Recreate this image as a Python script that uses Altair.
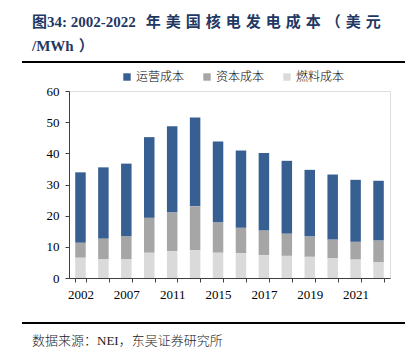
import altair as alt
import pandas as pd

years = ["2002", "2005", "2007", "2010", "2011", "2012", "2015", "2016",
         "2017", "2018", "2019", "2020", "2021", "2022"]
shown_years = ["2002", "2007", "2011", "2015", "2017", "2019", "2021"]
series = ["运营成本", "资本成本", "燃料成本"]
ops_cost = [22.6, 22.9, 23.4, 25.9, 27.7, 28.5, 26.0, 24.8, 24.9, 23.4, 21.4, 20.9, 19.9, 19.2]
capital_cost = [4.8, 6.5, 7.2, 11.2, 12.4, 14.1, 9.7, 8.2, 7.9, 7.1, 6.5, 6.0, 5.7, 7.0]
fuel_cost = [6.5, 6.1, 6.1, 8.1, 8.6, 8.9, 8.1, 7.9, 7.3, 7.1, 6.8, 6.3, 5.9, 5.0]
colors = ["#375F92", "#A6A6A6", "#DADADA"]

sp = "\u2004"
title_lines = ["图34: 2002-2022" + sp + sp + sp.join("年美国核电发电成本（美元"), "/MWh" + sp + "）"]
source_text = "数据来源：NEI，东吴证券研究所"

rows = []
for i, y in enumerate(years):
    for s, vals, order in zip(series, [ops_cost, capital_cost, fuel_cost], [3, 2, 1]):
        rows.append({"year": y, "series": s, "value": vals[i], "ord": order})
df = pd.DataFrame(rows)

W, H = 321, 187
L, T = 69, 91

label_expr = "indexof(" + str(shown_years) + ", datum.label) >= 0 ? datum.label : ''"

bars = alt.Chart(df).mark_bar(size=10.5).encode(
    x=alt.X("year:N", sort=years, title=None,
            scale=alt.Scale(paddingInner=0.54, paddingOuter=0.27),
            axis=alt.Axis(labelAngle=0, labelExpr=label_expr, tickBand="extent",
                          tickSize=4, labelPadding=6, labelFont="Liberation Serif",
                          labelFontSize=13, labelColor="#000000", domainColor="#404040",
                          tickColor="#404040")),
    y=alt.Y("value:Q", stack="zero", title=None,
            scale=alt.Scale(domain=[0, 60]),
            axis=alt.Axis(values=[0, 10, 20, 30, 40, 50, 60], grid=False, tickSize=4,
                          labelFont="Liberation Serif", labelFontSize=13, labelPadding=6,
                          labelColor="#000000", domainColor="#404040", tickColor="#404040")),
    color=alt.Color("series:N", sort=series,
                    scale=alt.Scale(domain=series, range=colors),
                    legend=alt.Legend(title=None, orient="none", direction="horizontal",
                                      legendX=52, legendY=-20, symbolType="square",
                                      symbolSize=55, symbolStrokeWidth=0,
                                      labelFont="Noto Sans CJK SC", labelFontSize=12,
                                      labelFontWeight=300,
                                      labelColor="#000000", labelOffset=3, columnPadding=16)),
    order=alt.Order("ord:Q"),
)

top_rule = alt.Chart(df).mark_rule(color="#000000", strokeWidth=1.5, clip=False).encode(
    x=alt.value(22 - L), x2=alt.value(405 - L), y=alt.value(62 - T))
bottom_rule = alt.Chart(df).mark_rule(color="#000000", strokeWidth=1.5, clip=False).encode(
    x=alt.value(22 - L), x2=alt.value(405 - L), y=alt.value(323 - T))
source = alt.Chart(pd.DataFrame({"t": [source_text]})).mark_text(
    align="left", baseline="middle", font="Liberation Serif, Noto Sans CJK SC",
    fontSize=13, fontWeight=300, color="#222222", clip=False).encode(
    x=alt.value(32 - L), y=alt.value(341 - T), text="t:N")

chart = alt.layer(bars, top_rule, bottom_rule, source).properties(
    width=W, height=H,
    autosize=alt.AutoSizeParams(type="none"),
    padding={"left": L, "top": T, "right": 414 - L - W, "bottom": 353 - T - H},
    title=alt.TitleParams(text=title_lines, anchor="start", frame="group", dx=32 - L,
                          offset=7, font="Liberation Serif, Noto Sans CJK SC",
                          fontSize=15, fontWeight="bold", color="#1F3864", lineHeight=24),
).configure_view(stroke=None).configure(background="#FFFFFF")

chart.save("out.html", embed_options={"renderer": "svg", "actions": False})
